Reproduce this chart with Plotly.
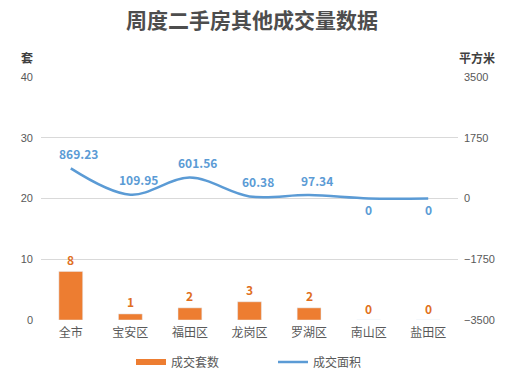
import plotly.graph_objects as go

categories = ["全市", "宝安区", "福田区", "龙岗区", "罗湖区", "南山区", "盐田区"]
units = [8, 1, 2, 3, 2, 0, 0]
area = [869.23, 109.95, 601.56, 60.38, 97.34, 0, 0]
area_labels = ["869.23", "109.95", "601.56", "60.38", "97.34", "0", "0"]
left_ticks = [0, 10, 20, 30, 40]
right_ticks = [-3500, -1750, 0, 1750, 3500]

FONT = "Noto Sans CJK SC, Microsoft YaHei, sans-serif"
NUMFONT = "Liberation Sans, Arial, sans-serif"
ORANGE = "#ED7D31"
ORANGE_TXT = "#E0701F"
BLUE = "#5B9BD5"
GRID = "#D9D9D9"
TXT = "#595959"

fig = go.Figure()
fig.add_trace(go.Bar(
    x=categories, y=units, name="成交套数", marker_color=ORANGE,
    width=0.4, yaxis="y", showlegend=False,
))
# legend proxy for the bar series (wide rectangle symbol)
fig.add_trace(go.Scatter(
    x=[None], y=[None], name="成交套数", mode="lines",
    line=dict(color=ORANGE, width=6), yaxis="y",
))
fig.add_trace(go.Scatter(
    x=categories, y=area, name="成交面积", mode="lines",
    line=dict(color=BLUE, width=2.5, shape="spline", smoothing=1.0),
    yaxis="y2",
))

annotations = []
for c, v in zip(categories, units):
    annotations.append(dict(x=c, y=v, xref="x", yref="y", text=f"<b>{v}</b>",
                            showarrow=False, yshift=12,
                            font=dict(color=ORANGE_TXT, size=12, family=FONT)))
for c, v, t in zip(categories, area, area_labels):
    annotations.append(dict(x=c, y=v, xref="x", yref="y2", text=f"<b>{t}</b>",
                            showarrow=False, yshift=(15 if v > 0 else -11),
                            xshift=(8 if v > 0 else 0),
                            font=dict(color=BLUE, size=12, family=FONT)))
annotations.append(dict(xref="paper", yref="paper", x=0, y=1, xshift=-14, yshift=20,
                        xanchor="center", yanchor="middle", text="<b>套</b>", showarrow=False,
                        font=dict(color="#404040", size=12, family=FONT)))
annotations.append(dict(xref="paper", yref="paper", x=1, y=1, xshift=19, yshift=20,
                        xanchor="center", yanchor="middle", text="<b>平方米</b>", showarrow=False,
                        font=dict(color="#404040", size=12, family=FONT)))

fig.update_layout(
    width=511, height=376,
    margin=dict(l=41, r=53, t=77, b=56, autoexpand=False),
    paper_bgcolor="white", plot_bgcolor="white",
    font=dict(family=FONT, color=TXT, size=11),
    title=dict(text="<b>周度二手房其他成交量数据</b>", x=0.493, xanchor="center",
               yref="container", y=1 - 21 / 376, yanchor="middle",
               font=dict(size=21, color="#4D4D4D", family=FONT)),
    xaxis=dict(showgrid=False, showline=False, ticks="",
               tickfont=dict(size=12, color=TXT, family=FONT), fixedrange=True,
               ticklabelstandoff=4),
    yaxis=dict(range=[0, 40], tickvals=left_ticks, showgrid=True, gridcolor=GRID,
               zeroline=False, showline=False, ticks="",
               tickfont=dict(size=11, color=TXT, family=NUMFONT), ticklabelstandoff=7),
    yaxis2=dict(range=[-3500, 3500], tickvals=right_ticks, overlaying="y", side="right",
                showgrid=False, zeroline=False, showline=False, ticks="",
                tickfont=dict(size=11, color=TXT, family=NUMFONT), ticklabelstandoff=5),
    legend=dict(orientation="h", x=(131 - 41) / 417, xanchor="left", yref="container",
                y=1 - 362 / 376, yanchor="middle", itemwidth=30, entrywidth=97,
                font=dict(size=12, color=TXT, family=FONT)),
    annotations=annotations,
    showlegend=True,
)

fig.write_html("out.html", config={"displayModeBar": False},
               post_script="document.body.style.margin='0';")
